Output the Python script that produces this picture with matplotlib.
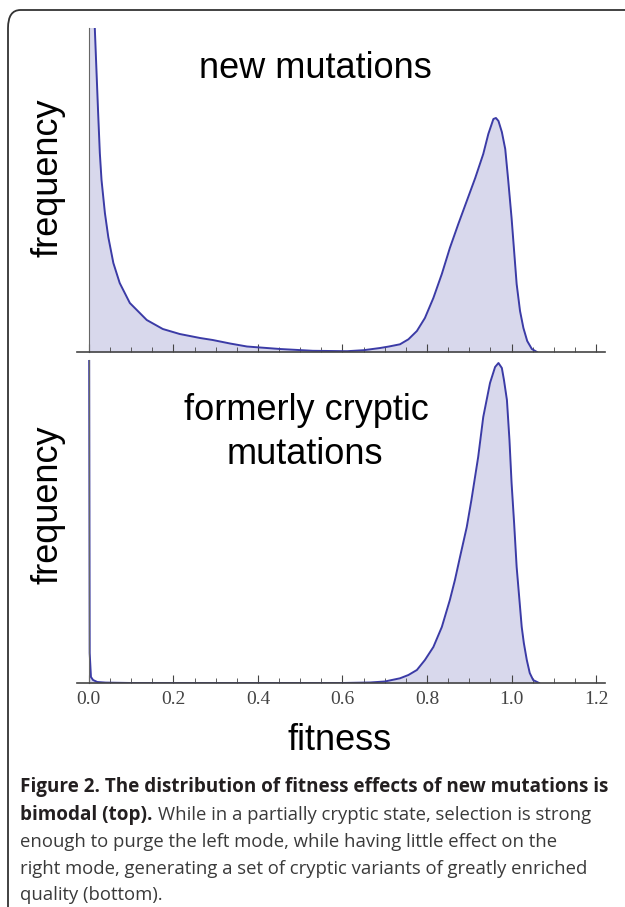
import matplotlib.pyplot as plt
from matplotlib.patches import FancyBboxPatch
from matplotlib.ticker import MultipleLocator

# fitness values and frequencies (arbitrary units)
x_new = [0.0, 0.014, 0.018, 0.022, 0.026, 0.030, 0.038, 0.046, 0.058, 0.073,
         0.097, 0.137, 0.175, 0.215, 0.263, 0.293, 0.334, 0.374, 0.452, 0.53,
         0.611, 0.65, 0.689, 0.71, 0.736, 0.756, 0.776, 0.795, 0.815, 0.835,
         0.854, 0.874, 0.894, 0.914, 0.933, 0.945, 0.957, 0.963, 0.969, 0.977,
         0.985, 0.992, 1.0, 1.006, 1.012, 1.02, 1.028, 1.037, 1.048, 1.06]
f_new = [5.0, 3.25, 2.82, 2.39, 1.99, 1.72, 1.39, 1.15, 0.89, 0.69,
         0.49, 0.32, 0.23, 0.18, 0.14, 0.12, 0.085, 0.055, 0.03, 0.012,
         0.008, 0.018, 0.04, 0.055, 0.077, 0.127, 0.21, 0.34, 0.54, 0.78,
         1.04, 1.28, 1.51, 1.74, 1.98, 2.18, 2.33, 2.34, 2.31, 2.2,
         2.03, 1.72, 1.34, 1.01, 0.68, 0.41, 0.24, 0.11, 0.03, 0.0]

x_cryptic = [0.0, 0.002, 0.005, 0.01, 0.02, 0.04, 0.1, 0.3, 0.5, 0.6, 0.665,
             0.7, 0.736, 0.756, 0.776, 0.795, 0.815, 0.835, 0.854, 0.866,
             0.878, 0.894, 0.905, 0.921, 0.933, 0.941, 0.949, 0.961, 0.969,
             0.977, 0.982, 0.989, 0.995, 1.0, 1.006, 1.012, 1.018, 1.024,
             1.029, 1.036, 1.043, 1.051, 1.065]
f_cryptic = [5.0, 0.3, 0.06, 0.03, 0.01, 0.004, 0.0, 0.0, 0.0, 0.0, 0.005,
             0.015, 0.047, 0.08, 0.13, 0.23, 0.36, 0.56, 0.83, 1.03,
             1.26, 1.56, 1.83, 2.26, 2.66, 2.83, 3.0, 3.16, 3.2,
             3.15, 3.03, 2.83, 2.43, 2.0, 1.6, 1.16, 0.86, 0.56,
             0.4, 0.23, 0.1, 0.03, 0.0]

line_col = "#3b3ba6"
fill_col = "#d8d8ec"
W, H = 625, 907

fig = plt.figure(figsize=(W / 100, H / 100), dpi=100)

# rounded frame around figure + caption
frame = FancyBboxPatch((8 / W, -0.05), 1.1, 1 - 10 / H + 0.05,
                       boxstyle="round,pad=0,rounding_size=0.02",
                       transform=fig.transFigure, fill=False,
                       edgecolor="#333333", linewidth=1.3, clip_on=False)
fig.patches.append(frame)


def make_axes(top_px, bot_px):
    ax = fig.add_axes([77 / W, 1 - bot_px / H, (605 - 77) / W,
                       (bot_px - top_px) / H])
    ax.set_xlim(-0.028, 1.221)
    for s in ["top", "right"]:
        ax.spines[s].set_visible(False)
    ax.spines["left"].set_position(("data", 0))
    ax.spines["left"].set_color("#666666")
    ax.spines["bottom"].set_color("#444444")
    ax.spines["bottom"].set_linewidth(1.2)
    ax.set_xticks([0, 0.2, 0.4, 0.6, 0.8, 1.0, 1.2])
    ax.xaxis.set_minor_locator(MultipleLocator(0.05))
    ax.tick_params(axis="x", which="major", direction="in", length=6,
                   color="#444444", labelsize=14, labelcolor="#444444", pad=6)
    ax.tick_params(axis="x", which="minor", direction="in", length=3.5,
                   color="#444444")
    ax.set_yticks([])
    return ax


ax1 = make_axes(28, 352)
ax1.set_ylim(0, 3.24)
ax1.fill_between(x_new, f_new, color=fill_col, lw=0)
ax1.plot(x_new, f_new, color=line_col, lw=1.4)
ax1.tick_params(axis="x", labelbottom=False)

ax2 = make_axes(360, 683)
ax2.set_ylim(0, 3.23)
ax2.fill_between(x_cryptic, f_cryptic, color=fill_col, lw=0)
ax2.plot(x_cryptic, f_cryptic, color=line_col, lw=1.4)
ax2.set_xticklabels(["0.0", "0.2", "0.4", "0.6", "0.8", "1.0", "1.2"],
                    family="Liberation Serif")

big = dict(fontsize=26, family="Liberation Sans", ha="center", va="center")
fig.text(315 / W, 1 - 68 / H, "new mutations", **big)
fig.text(306 / W, 1 - 410 / H, "formerly cryptic", **big)
fig.text(305 / W, 1 - 455 / H, "mutations", **big)
fig.text(48 / W, 1 - 178 / H, "frequency", rotation=90, **big)
fig.text(48 / W, 1 - 505 / H, "frequency", rotation=90, **big)
fig.text(340 / W, 1 - 740 / H, "fitness", **big)

# caption
cap_x = 20 / W
bold = dict(fontsize=13.6, fontweight="bold", family="Open Sans",
            color="#231f20", va="center")
reg = dict(fontsize=13.35, family="Open Sans", color="#3a3a3a", va="center")
fig.text(cap_x, 1 - 787 / H,
         "Figure 2. The distribution of fitness effects of new mutations is",
         **bold)
b2 = fig.text(cap_x, 1 - 815 / H, "bimodal (top).", **bold)
fig.canvas.draw()
bb = b2.get_window_extent()
fig.text(bb.x1 / W + 5 / W, 1 - 815 / H,
         "While in a partially cryptic state, selection is strong", **reg)
fig.text(cap_x, 1 - 842 / H,
         "enough to purge the left mode, while having little effect on the",
         **reg)
fig.text(cap_x, 1 - 869 / H,
         "right mode, generating a set of cryptic variants of greatly enriched",
         **reg)
fig.text(cap_x, 1 - 895 / H, "quality (bottom).", **reg)

plt.savefig("out.png", dpi=100)
